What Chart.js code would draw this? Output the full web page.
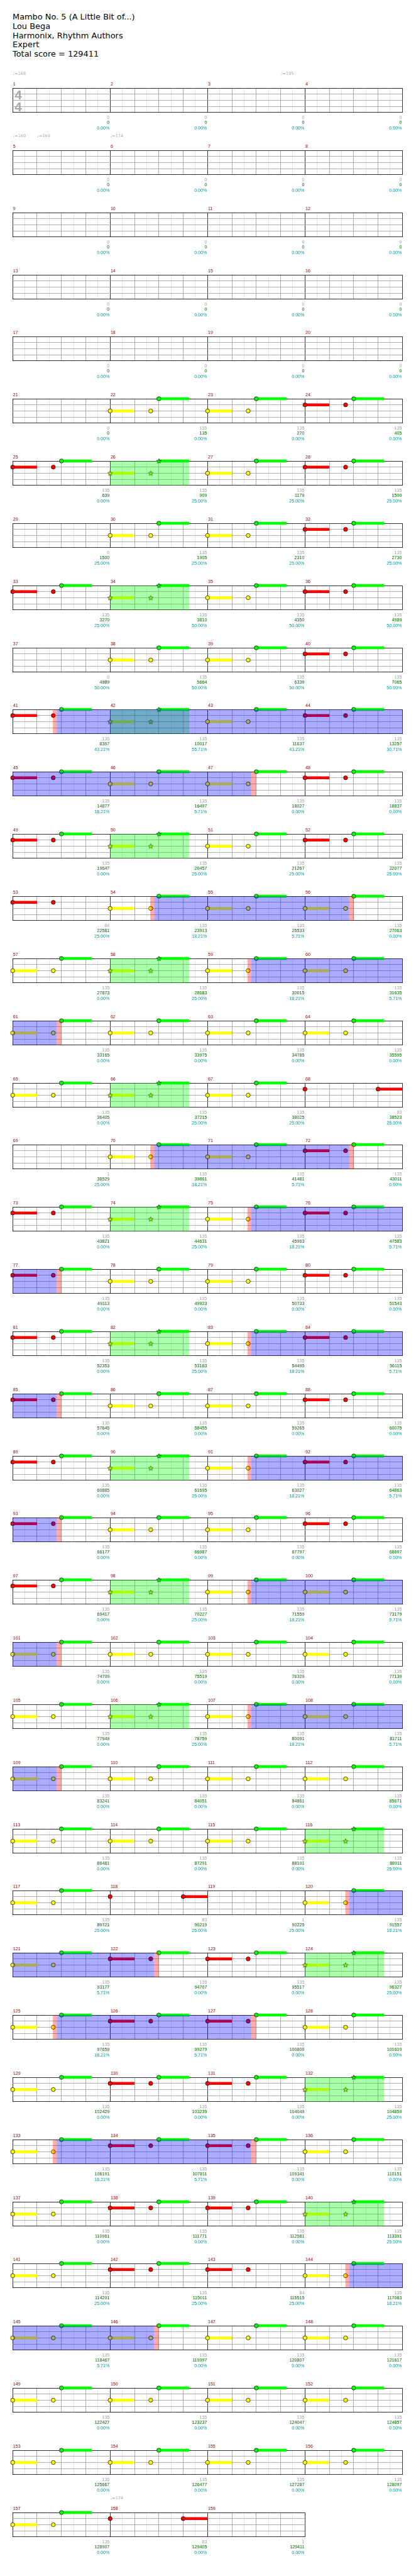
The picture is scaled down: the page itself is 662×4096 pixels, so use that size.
<!DOCTYPE html>
<html lang="en">
<head>
<meta charset="UTF-8">
<meta name="viewport" content="width=device-width, initial-scale=1.0">
<title>Mambo No. 5 (A Little Bit of...) - Expert</title>
<script src="https://cdn.jsdelivr.net/npm/chart.js"></script>
<style>
  html, body { margin: 0; padding: 0; background: #fff; }
  #page { position: relative; width: 662px; height: 4096px; overflow: hidden; }
  #header {
    position: absolute; left: 20px; top: 20px;
    font-family: "DejaVu Sans", sans-serif; font-size: 12.92px; line-height: 14.76px;
    color: #000; white-space: nowrap;
  }
  #page canvas { position: absolute; left: 0; }
</style>
</head>
<body>
<div id="page">
  <div id="header">
    <div>Mambo No. 5 (A Little Bit of...)</div>
    <div>Lou Bega</div>
    <div>Harmonix, Rhythm Authors</div>
    <div>Expert</div>
    <div>Total score = 129411</div>
  </div>
</div>

<script>
// measures are 1-based, beats counted from the start of each 4/4 measure
const measureCount = 159;
const tempoMarks = [[1, 0, 168], [3, 3, 195], [5, 0, 160], [5, 1, 169], [6, 0, 174], [158, 0, 174]];

// notes: [measure, beat, sustain length in beats]
const greenNotes = [
  [22,2,1.25],[23,2,1.25],[24,2,1.25],
  [25,2,1.25],[26,2,1.25],[27,2,1.25],[28,2,1.25],
  [30,2,1.25],[31,2,1.25],[32,2,1.25],
  [33,2,1.25],[34,2,1.25],[35,2,1.25],[36,2,1.25],
  [38,2,1.25],[39,2,1.25],[40,2,1.25],
  [41,2,1.25],[42,2,1.25],[43,2,1.25],[44,2,1.25],
  [45,2,1.25],[46,2,1.25],[47,2,1.25],[48,2,1.25],
  [49,2,1.25],[50,2,1.25],[51,2,1.25],[52,2,1.25],
  [54,2,1.25],[55,2,1.25],[56,2,1.25],
  [57,2,1.25],[58,2,1.25],[59,2,1.25],[60,2,1.25],
  [61,2,1.25],[62,2,1.25],[63,2,1.25],[64,2,1.25],
  [65,2,1.25],[66,2,1.25],[67,2,1.25],
  [70,2,1.25],[71,2,1.25],[72,2,1.25],
  [73,2,1.25],[74,2,1.25],[75,2,1.25],[76,2,1.25],
  [77,2,1.25],[78,2,1.25],[79,2,1.25],[80,2,1.25],
  [81,2,1.25],[82,2,1.25],[83,2,1.25],[84,2,1.25],
  [85,2,1.25],[86,2,1.25],[87,2,1.25],[88,2,1.25],
  [89,2,1.25],[90,2,1.25],[91,2,1.25],[92,2,1.25],
  [93,2,1.25],[94,2,1.25],[95,2,1.25],[96,2,1.25],
  [97,2,1.25],[98,2,1.25],[99,2,1.25],[100,2,1.25],
  [101,2,1.25],[102,2,1.25],[103,2,1.25],[104,2,1.25],
  [105,2,1.25],[106,2,1.25],[107,2,1.25],[108,2,1.25],
  [109,2,1.25],[110,2,1.25],[111,2,1.25],[112,2,1.25],
  [113,2,1.25],[114,2,1.25],[115,2,1.25],[116,2,1.25],
  [117,2,1.25],[120,2,1.25],
  [121,2,1.25],[122,2,1.25],[123,2,1.25],[124,2,1.25],
  [125,2,1.25],[126,2,1.25],[127,2,1.25],[128,2,1.25],
  [129,2,1.25],[130,2,1.25],[131,2,1.25],[132,2,1.25],
  [133,2,1.25],[134,2,1.25],[135,2,1.25],[136,2,1.25],
  [137,2,1.25],[138,2,1.25],[139,2,1.25],[140,2,1.25],
  [141,2,1.25],[142,2,1.25],[144,2,1.25],
  [145,2,1.25],[146,2,1.25],[147,2,1.25],[148,2,1.25],
  [149,2,1.25],[150,2,1.25],[151,2,1.25],[152,2,1.25],
  [153,2,1.25],[154,2,1.25],[155,2,1.25],[156,2,1.25],
  [157,2,1.25]
];
const redNotes = [
  [24,0,1],[24,1.667,0],[25,0,1],[25,1.667,0],[28,0,1],[28,1.667,0],
  [32,0,1],[32,1.667,0],[33,0,1],[33,1.667,0],[36,0,1],[36,1.667,0],
  [40,0,1],[40,1.667,0],[41,0,1],[41,1.667,0],[44,0,1],[44,1.667,0],
  [45,0,1],[45,1.667,0],[48,0,1],[48,1.667,0],[49,0,1],[49,1.667,0],
  [52,0,1],[52,1.667,0],[53,0,1],[53,1.667,0],
  [68,0,0],[68,3,1],
  [72,0,1],[72,1.667,0],[73,0,1],[73,1.667,0],[76,0,1],[76,1.667,0],
  [77,0,1],[77,1.667,0],[80,0,1],[80,1.667,0],[81,0,1],[81,1.667,0],
  [84,0,1],[84,1.667,0],[85,0,1],[85,1.667,0],[88,0,1],[88,1.667,0],
  [89,0,1],[89,1.667,0],[92,0,1],[92,1.667,0],[93,0,1],[93,1.667,0],
  [96,0,1],[96,1.667,0],[97,0,1],[97,1.667,0],
  [118,0,0],[118,3,1],
  [122,0,1],[122,1.667,0],[123,0,1],[123,1.667,0],[126,0,1],[126,1.667,0],
  [127,0,1],[127,1.667,0],[130,0,1],[130,1.667,0],[131,0,1],[131,1.667,0],
  [134,0,1],[134,1.667,0],[135,0,1],[135,1.667,0],[138,0,1],[138,1.667,0],
  [139,0,1],[139,1.667,0],[142,0,1],[142,1.667,0],[143,0,1],[143,1.667,0],
  [158,0,0],[158,3,1]
];
const yellowNotes = [
  [22,0,1],[22,1.667,0],[23,0,1],[23,1.667,0],[26,0,1],[26,1.667,0],[27,0,1],[27,1.667,0],
  [30,0,1],[30,1.667,0],[31,0,1],[31,1.667,0],[34,0,1],[34,1.667,0],[35,0,1],[35,1.667,0],
  [38,0,1],[38,1.667,0],[39,0,1],[39,1.667,0],[42,0,1],[42,1.667,0],[43,0,1],[43,1.667,0],
  [46,0,1],[46,1.667,0],[47,0,1],[47,1.667,0],[50,0,1],[50,1.667,0],[51,0,1],[51,1.667,0],
  [54,0,1],[54,1.667,0],[55,0,1],[55,1.667,0],[56,0,1],[56,1.667,0],
  [57,0,1],[57,1.667,0],[58,0,1],[58,1.667,0],[59,0,1],[59,1.667,0],[60,0,1],[60,1.667,0],
  [61,0,1],[61,1.667,0],[62,0,1],[62,1.667,0],[63,0,1],[63,1.667,0],[64,0,1],[64,1.667,0],
  [65,0,1],[65,1.667,0],[66,0,1],[66,1.667,0],[67,0,1],[67,1.667,0],
  [70,0,1],[70,1.667,0],[71,0,1],[71,1.667,0],[74,0,1],[74,1.667,0],[75,0,1],[75,1.667,0],
  [78,0,1],[78,1.667,0],[79,0,1],[79,1.667,0],[82,0,1],[82,1.667,0],[83,0,1],[83,1.667,0],
  [86,0,1],[86,1.667,0],[87,0,1],[87,1.667,0],[90,0,1],[90,1.667,0],[91,0,1],[91,1.667,0],
  [94,0,1],[94,1.667,0],[95,0,1],[95,1.667,0],[98,0,1],[98,1.667,0],[99,0,1],[99,1.667,0],
  [100,0,1],[100,1.667,0],
  [101,0,1],[101,1.667,0],[102,0,1],[102,1.667,0],[103,0,1],[103,1.667,0],[104,0,1],[104,1.667,0],
  [105,0,1],[105,1.667,0],[106,0,1],[106,1.667,0],[107,0,1],[107,1.667,0],[108,0,1],[108,1.667,0],
  [109,0,1],[109,1.667,0],[110,0,1],[110,1.667,0],[111,0,1],[111,1.667,0],[112,0,1],[112,1.667,0],
  [113,0,1],[113,1.667,0],[114,0,1],[114,1.667,0],[115,0,1],[115,1.667,0],[116,0,1],[116,1.667,0],
  [117,0,1],[117,1.667,0],[120,0,1],[120,1.667,0],
  [121,0,1],[121,1.667,0],[124,0,1],[124,1.667,0],[125,0,1],[125,1.667,0],[128,0,1],[128,1.667,0],
  [129,0,1],[129,1.667,0],[132,0,1],[132,1.667,0],[133,0,1],[133,1.667,0],[136,0,1],[136,1.667,0],
  [137,0,1],[137,1.667,0],[140,0,1],[140,1.667,0],[141,0,1],[141,1.667,0],[144,0,1],[144,1.667,0],
  [145,0,1],[145,1.667,0],[146,0,1],[146,1.667,0],[147,0,1],[147,1.667,0],[148,0,1],[148,1.667,0],
  [149,0,1],[149,1.667,0],[150,0,1],[150,1.667,0],[151,0,1],[151,1.667,0],[152,0,1],[152,1.667,0],
  [153,0,1],[153,1.667,0],[154,0,1],[154,1.667,0],[155,0,1],[155,1.667,0],[156,0,1],[156,1.667,0],
  [157,0,1],[157,1.667,0]
];

// star power phrases: [measure, startBeat, endBeat]
const starPhrases = [
  [26,0,3.25],[34,0,3.25],[42,0,3.25],[50,0,3.25],[58,0,3.25],[66,0,3.25],[74,0,3.25],[82,0,3.25],
  [90,0,3.25],[98,0,3.25],[106,0,3.25],[116,0,3.25],[124,0,3.25],[132,0,3.25],[140,0,3.25]
];
// star power activations: [startMeasure, startBeat, endMeasure, endBeat]
const activations = [
  [41,1.81,47,1.8],[54,1.81,56,1.82],[59,1.8,61,1.81],[70,1.81,72,1.82],[75,1.8,77,1.81],
  [83,1.8,85,1.81],[91,1.8,93,1.81],[99,1.8,101,1.81],[107,1.8,109,1.81],[120,1.82,122,1.81],
  [125,1.81,127,1.8],[133,1.81,135,1.8],[144,1.82,146,1.81]
];

const measureScores = [
  0,0,0,0, 0,0,0,0, 0,0,0,0, 0,0,0,0, 0,0,0,0,
  0,135,135,135, 135,135,135,135, 0,135,135,135, 135,135,135,135, 0,135,135,135,
  135,135,135,135, 135,135,135,135, 135,135,135,135, 84,135,135,135, 135,135,135,135,
  135,135,135,135, 135,135,135,83, 1,135,135,135, 135,135,135,135, 135,135,135,135,
  135,135,135,135, 135,135,135,135, 135,135,135,135, 135,135,135,135, 135,135,135,135,
  135,135,135,135, 135,135,135,135, 135,135,135,135, 135,135,135,135, 135,83,1,135,
  135,135,135,135, 135,135,135,135, 135,135,135,135, 135,135,135,135, 135,135,135,135,
  135,135,84,135, 135,135,135,135, 135,135,135,135, 135,135,135,135, 135,83,1
];
const totalScores = [
  0,0,0,0, 0,0,0,0, 0,0,0,0, 0,0,0,0, 0,0,0,0,
  0,135,270,405, 639,909,1179,1500, 1500,1905,2310,2730, 3270,3810,4350,4989, 4989,5664,6339,7065,
  8397,10017,11637,13257, 14877,16497,18027,18837, 19647,20457,21267,22077, 22581,23913,25533,27063,
  27873,28683,30015,31635, 33165,33975,34785,35595, 36405,37215,38025,38523, 38529,39861,41481,43011,
  43821,44631,45963,47583, 49113,49923,50733,51543, 52353,53163,54495,56115, 57645,58455,59265,60075,
  60885,61695,63027,64863, 66177,66987,67797,68607, 69417,70227,71559,73179, 74709,75519,76329,77139,
  77949,78759,80091,81711, 83241,84051,84861,85671, 86481,87291,88101,88911, 89721,90219,90225,91557,
  93177,94707,95517,96327, 97659,99279,100809,101619, 102429,103239,104049,104859, 106191,107811,109341,110151,
  110961,111771,112581,113391, 114201,115011,115515,117063, 118467,119997,120807,121617, 122427,123237,124047,124857,
  125667,126477,127287,128097, 128907,129405,129411
];
const percents = [
  0,0,0,0, 0,0,0,0, 0,0,0,0, 0,0,0,0, 0,0,0,0,
  0,0,0,0, 0,25,25,25, 25,25,25,25, 25,50,50,50, 50,50,50,50,
  43.21,55.71,43.21,30.71, 18.21,5.71,0,0, 0,25,25,25, 25,18.21,5.71,0, 0,25,18.21,5.71,
  0,0,0,0, 0,25,25,25, 25,18.21,5.71,0, 0,25,18.21,5.71, 0,0,0,0,
  0,25,18.21,5.71, 0,0,0,0, 0,25,18.21,5.71, 0,0,0,0, 0,25,18.21,5.71,
  0,0,0,0, 0,25,18.21,5.71, 0,0,0,0, 0,0,0,25, 25,25,25,18.21,
  5.71,0,0,25, 18.21,5.71,0,0, 0,0,0,25, 18.21,5.71,0,0, 0,0,0,25,
  25,25,25,18.21, 5.71,0,0,0, 0,0,0,0, 0,0,0,0, 0,0,0
];

// layout, in reference pixels, scaled by S when drawn
const S = 0.646;
const LEFT = 31.3, MEASURE_W = 240, STAFF_TOP = 217, ROW_GAP = 153, STAFF_H = 60, PAD_TOP = 45;
const CANVAS_W = 662, CANVAS_H = 99;
const PINK_IN = 0.16, PINK_OUT = 0.19;
const laneColors = ['#00ff00', '#ff0000', '#ffff00'];
const laneNotes = [greenNotes, redNotes, yellowNotes];
const smallFont = (11 * S).toFixed(2) + 'px "Liberation Sans", Arial, sans-serif';
const tempoFont = (10 * S).toFixed(2) + 'px "DejaVu Sans", sans-serif';

const absBeat = (m, b) => (m - 1) * 4 + b;
const isStar = (m, b) => starPhrases.some(p => p[0] === m && b >= p[1] && b <= p[2]);

function makeStar(fill) {
  const c = document.createElement('canvas');
  c.width = 10; c.height = 10;
  const g = c.getContext('2d');
  g.beginPath();
  for (let i = 0; i < 10; i++) {
    const r = i % 2 ? 1.7 : 3.9;
    const a = -Math.PI / 2 + i * Math.PI / 5;
    const px = 5 + r * Math.cos(a), py = 5.3 + r * Math.sin(a);
    if (i) g.lineTo(px, py); else g.moveTo(px, py);
  }
  g.closePath();
  g.fillStyle = fill;
  g.fill();
  g.strokeStyle = '#000';
  g.lineWidth = 0.7;
  g.stroke();
  return c;
}
const starImages = laneColors.map(makeStar);

const staffPlugin = {
  id: 'staff',
  afterDatasetsDraw(chart, args, opts) {
    const {ctx, chartArea: ca} = chart;
    const x = chart.scales.x;
    const base = opts.row * 16;
    const span = (s, e, color) => {
      const a = Math.max(s - base, x.min), b = Math.min(e - base, x.max);
      if (b <= a) return;
      const pa = x.getPixelForValue(a);
      ctx.fillStyle = color;
      ctx.fillRect(pa, ca.top, x.getPixelForValue(b) - pa, ca.bottom - ca.top);
    };
    ctx.save();
    starPhrases.forEach(([m, s, e]) => span(absBeat(m, s), absBeat(m, e), 'rgba(0,255,0,0.33)'));
    activations.forEach(([m1, b1, m2, b2]) => {
      const s = absBeat(m1, b1), e = absBeat(m2, b2);
      span(s - PINK_IN, s, 'rgba(255,0,0,0.33)');
      span(e, e + PINK_OUT, 'rgba(255,0,0,0.33)');
      span(s, e, 'rgba(0,0,255,0.33)');
    });
    ctx.restore();
  },
  afterDraw(chart, args, opts) {
    const {ctx, chartArea: ca} = chart;
    const x = chart.scales.x;
    const first = opts.row * 4 + 1;
    ctx.save();
    ctx.textBaseline = 'alphabetic';
    ctx.font = smallFont;
    for (let i = 0; i < opts.measures; i++) {
      const m = first + i;
      const x0 = x.getPixelForValue(i * 4), x1 = x.getPixelForValue(i * 4 + 4);
      ctx.textAlign = 'left';
      ctx.fillStyle = '#8b0000';
      ctx.fillText(String(m), x0 + 1 * S, ca.top - 7 * S);
      ctx.textAlign = 'right';
      ctx.fillStyle = '#a0a0a0';
      ctx.fillText(String(measureScores[m - 1]), x1 - 1.5 * S, ca.bottom + 15.7 * S);
      ctx.fillStyle = '#006400';
      ctx.fillText(String(totalScores[m - 1]), x1 - 1.5 * S, ca.bottom + 28.7 * S);
      ctx.fillStyle = '#009a9a';
      ctx.fillText(percents[m - 1].toFixed(2) + '%', x1 - 1.5 * S, ca.bottom + 41.7 * S);
    }
    ctx.textAlign = 'left';
    ctx.font = tempoFont;
    ctx.fillStyle = '#aaaaaa';
    tempoMarks.forEach(([m, b, bpm]) => {
      if (m < first || m >= first + opts.measures) return;
      ctx.fillText('\u2669=' + bpm, x.getPixelForValue((m - first) * 4 + b), ca.top - 32.5 * S);
    });
    if (opts.row === 0) {
      ctx.font = 'bold ' + (32 * S).toFixed(2) + 'px "Liberation Sans", Arial, sans-serif';
      ctx.fillStyle = '#a8a8a8';
      ctx.fillText('4', ca.left + 4.5 * S, ca.top + 28 * S);
      ctx.fillText('4', ca.left + 4.5 * S, ca.top + 57 * S);
    }
    ctx.restore();
  }
};

const gridX = v => (v % 4 === 0 ? '#000000' : (v % 1 === 0 ? '#999999' : '#dddddd'));
const page = document.getElementById('page');
const rowCount = Math.ceil(measureCount / 4);

for (let k = 0; k < rowCount; k++) {
  const first = 4 * k + 1;
  const nMeas = Math.min(4, measureCount - 4 * k);
  const inRow = n => n[0] >= first && n[0] < first + nMeas;

  const canvas = document.createElement('canvas');
  canvas.width = CANVAS_W;
  canvas.height = CANVAS_H;
  canvas.style.top = ((STAFF_TOP + ROW_GAP * k - PAD_TOP) * S) + 'px';
  page.appendChild(canvas);

  const datasets = [];
  laneNotes.forEach((list, lane) => {
    datasets.push({
      type: 'scatter',
      order: 0,
      data: list.filter(inRow).map(([m, b]) => ({x: (m - first) * 4 + b, y: lane, star: isStar(m, b)})),
      backgroundColor: laneColors[lane],
      borderColor: '#000',
      borderWidth: 0.7,
      pointRadius: 5 * S,
      pointStyle: c => (c.raw && c.raw.star ? starImages[lane] : 'circle'),
      clip: false
    });
  });
  laneNotes.forEach((list, lane) => {
    const seg = [];
    list.filter(inRow).forEach(([m, b, sus]) => {
      if (sus <= 0) return;
      const s = (m - first) * 4 + b;
      seg.push({x: s, y: lane}, {x: s + sus, y: lane}, {x: s + sus, y: null});
    });
    datasets.push({
      type: 'line',
      order: 1,
      data: seg,
      borderColor: laneColors[lane],
      borderWidth: 7 * S,
      borderCapStyle: 'butt',
      pointRadius: 0,
      spanGaps: false,
      fill: false,
      clip: false
    });
  });

  new Chart(canvas.getContext('2d'), {
    type: 'scatter',
    data: {datasets},
    options: {
      responsive: false,
      animation: false,
      events: [],
      devicePixelRatio: 1,
      layout: {
        padding: {
          left: LEFT * S,
          right: CANVAS_W - (LEFT + nMeas * MEASURE_W) * S,
          top: PAD_TOP * S,
          bottom: CANVAS_H - (PAD_TOP + STAFF_H) * S
        }
      },
      scales: {
        x: {
          type: 'linear', min: 0, max: nMeas * 4,
          ticks: {display: false, stepSize: 0.5, autoSkip: false},
          grid: {drawTicks: false, lineWidth: 0.8, color: c => (c.tick ? gridX(c.tick.value) : '#000')},
          border: {display: false}
        },
        y: {
          type: 'linear', min: 0, max: 4, reverse: true,
          ticks: {display: false, stepSize: 1},
          grid: {drawTicks: false, lineWidth: 0.8,
                 color: c => (c.tick && (c.tick.value === 0 || c.tick.value === 4) ? '#000' : '#999999')},
          border: {display: false}
        }
      },
      plugins: {
        legend: {display: false},
        tooltip: {enabled: false},
        staff: {row: k, measures: nMeas}
      }
    },
    plugins: [staffPlugin]
  });
}
</script>
</body>
</html>
